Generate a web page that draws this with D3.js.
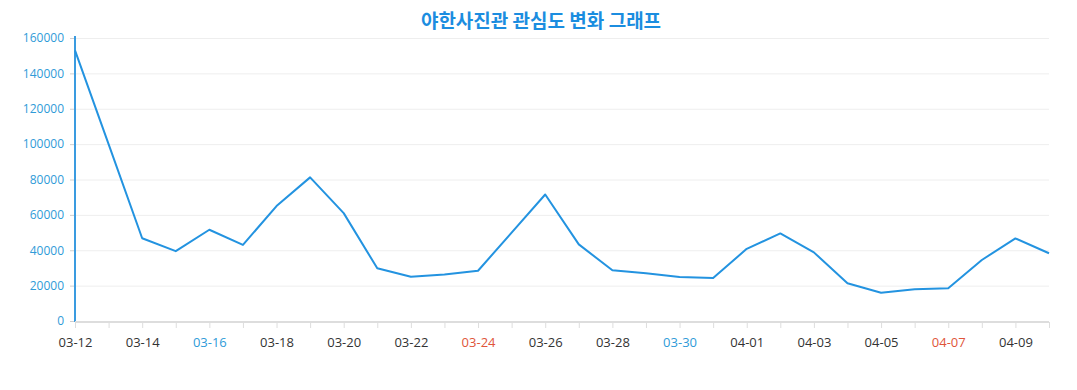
<!DOCTYPE html>
<html><head><meta charset="utf-8">
<script src="https://cdn.jsdelivr.net/npm/d3@7"></script>
<style>
body{margin:0;background:#fff;}
svg{display:block;}
</style></head>
<body><svg id="c" width="1077" height="390"></svg>
<script>
const title = "야한사진관 관심도 변화 그래프";
const dates = ["03-12","03-13","03-14","03-15","03-16","03-17","03-18","03-19","03-20","03-21","03-22","03-23","03-24","03-25","03-26","03-27","03-28","03-29","03-30","03-31","04-01","04-02","04-03","04-04","04-05","04-06","04-07","04-08","04-09","04-10"];
const values = [153000,100000,46800,39500,51600,43000,65000,81200,61000,29800,25000,26300,28400,50000,71500,43300,28700,27000,24900,24300,40800,49500,38800,21300,16000,17900,18500,34500,46700,38300];
const yTicks = [0,20000,40000,60000,80000,100000,120000,140000,160000];
// label colour by day type: saturday, sunday
const satDates = ["03-16","03-23","03-30","04-06"];
const sunDates = ["03-17","03-24","03-31","04-07"];

(function(){
const svg = d3.select("#c");
const pl = 75, pr = 1049, pt = 38, pb = 321;
const x = d3.scalePoint().domain(dates).range([pl, pr]);
const y = d3.scaleLinear().domain([0,160000]).range([pb, pt]);

// title
svg.append("text").attr("x", 541).attr("y", 28).attr("text-anchor","middle")
  .attr("font-family","'Noto Sans CJK KR', 'Noto Sans', sans-serif").attr("font-weight","bold")
  .attr("font-size", 19).attr("fill","#1b8de0").text(title);

// grid
svg.append("g").selectAll("line").data(yTicks.slice(1)).join("line")
  .attr("x1", pl).attr("x2", pr).attr("y1", d=>y(d)+0.5).attr("y2", d=>y(d)+0.5)
  .attr("stroke","#eeeeee").attr("stroke-width",1);

// y axis
const ya = svg.append("g").attr("transform",`translate(${pl},0)`)
  .call(d3.axisLeft(y).tickValues(yTicks).tickSize(5).tickPadding(6).tickFormat(d3.format("d")));
ya.select(".domain").remove();
ya.selectAll(".tick line").attr("stroke","#cfcfcf");
ya.selectAll("text").attr("fill","#2f9bd8").attr("font-family","'Open Sans', 'Noto Sans', sans-serif").attr("font-size",12);
svg.append("line").attr("x1",pl).attr("x2",pl).attr("y1",pt-2).attr("y2",pb+1)
  .attr("stroke","#3a9be0").attr("stroke-width",2);

// x axis
const xa = svg.append("g").attr("transform",`translate(0,${pb+1})`)
  .call(d3.axisBottom(x).tickSize(6).tickPadding(10).tickFormat((d,i)=> i%2===0 ? d : ""));
xa.select(".domain").attr("stroke","#dddddd").attr("stroke-width",2).attr("d",`M${pl},0H${pr}`);
xa.selectAll(".tick line").attr("stroke","#dddddd");
xa.selectAll("text").attr("font-family","'Open Sans', 'Noto Sans', sans-serif").attr("font-size",13)
  .attr("fill", d => satDates.includes(d) ? "#2f9bd8" : sunDates.includes(d) ? "#e0553a" : "#333");

// line
svg.append("path").datum(values.map((v,i)=>[dates[i],v]))
  .attr("fill","none").attr("stroke","#2393e0").attr("stroke-width",2).attr("stroke-linejoin","round")
  .attr("d", d3.line().x(d=>x(d[0])).y(d=>y(d[1])));
})();
</script></body></html>
